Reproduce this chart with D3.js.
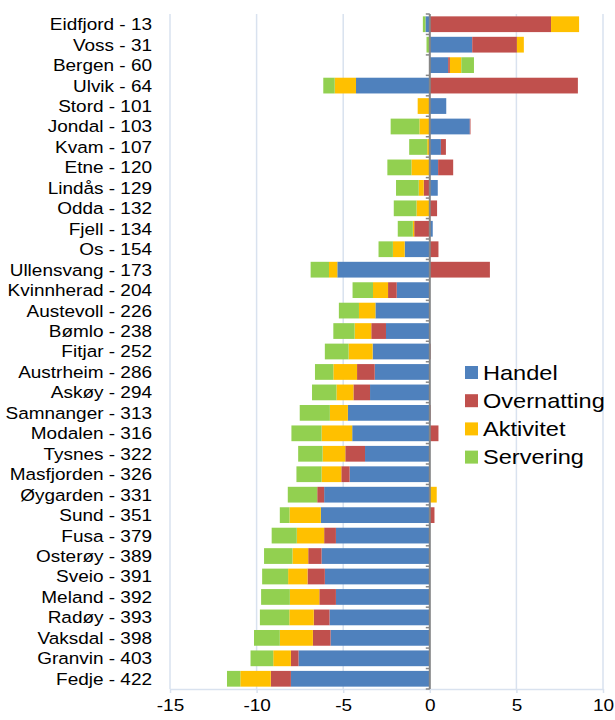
<!DOCTYPE html>
<html>
<head>
<meta charset="utf-8">
<script src="https://cdn.jsdelivr.net/npm/d3@7"></script>
<style>
  body { margin: 0; background: #fff; }
  svg { font-family: "Liberation Sans", Arial, sans-serif; }
</style>
</head>
<body>
<div id="chart"></div>
<script>
var kommuner = ["Eidfjord - 13", "Voss - 31", "Bergen - 60", "Ulvik - 64", "Stord - 101",
  "Jondal - 103", "Kvam - 107", "Etne - 120", "Lindås - 129", "Odda - 132", "Fjell - 134",
  "Os - 154", "Ullensvang - 173", "Kvinnherad - 204", "Austevoll - 226", "Bømlo - 238",
  "Fitjar - 252", "Austrheim - 286", "Askøy - 294", "Samnanger - 313", "Modalen - 316",
  "Tysnes - 322", "Masfjorden - 326", "Øygarden - 331", "Sund - 351", "Fusa - 379",
  "Osterøy - 389", "Sveio - 391", "Meland - 392", "Radøy - 393", "Vaksdal - 398",
  "Granvin - 403", "Fedje - 422"];

var seriesNames = ["Handel", "Overnatting", "Aktivitet", "Servering"];

var handel = [-0.25, 2.45, 1.06, -4.26, 0.95, 2.31, 0.64, 0.48, 0.46, 0, 0.17,
  -1.45, -5.34, -1.91, -3.14, -2.53, -3.3, -3.18, -3.45, -4.73, -4.48,
  -3.74, -4.63, -6.1, -6.29, -5.42, -6.25, -6.06, -5.42, -5.79, -5.73, -7.58, -8.02];
var overnatting = [7.0, 2.58, 0.1, 8.55, 0, 0.04, 0.29, 0.87, -0.35, 0.42, -0.9,
  0.5, 3.47, -0.5, 0, -0.85, 0.05, -1.02, -0.96, 0.05, 0.5,
  -1.14, -0.48, -0.4, 0.27, -0.68, -0.77, -1.0, -0.96, -0.91, -1.02, -0.44, -1.16];
var aktivitet = [1.62, 0.4, 0.66, -1.23, -0.7, -0.6, -0.15, -1.06, -0.29, -0.77, -0.08,
  -0.68, -0.48, -0.87, -0.95, -0.96, -1.39, -1.37, -0.98, -1.04, -1.77,
  -1.31, -1.14, 0.4, -1.81, -1.58, -0.91, -1.12, -1.7, -1.41, -1.91, -1.02, -1.76];
var servering = [-0.15, -0.19, 0.73, -0.66, 0, -1.66, -1.04, -1.39, -1.31, -1.31, -0.87,
  -0.83, -1.06, -1.18, -1.16, -1.23, -1.37, -1.06, -1.41, -1.74, -1.74,
  -1.41, -1.45, -1.7, -0.56, -1.45, -1.64, -1.5, -1.66, -1.7, -1.49, -1.31, -0.77];

var xTicks = [-15, -10, -5, 0, 5, 10];
var colors = ["#4F81BD", "#C0504D", "#FFC000", "#92D050"];

var margin = {top: 14, right: 12, bottom: 31, left: 170},
    width = 615 - margin.left - margin.right,
    height = 720 - margin.top - margin.bottom;

// the reference text is a bit wider than it is tall
var stretch = "scale(1.15,1)";

// table for d3.stack
var rows = kommuner.map(function(k, i) {
  return {name: k, Handel: handel[i], Overnatting: overnatting[i],
          Aktivitet: aktivitet[i], Servering: servering[i]};
});

var stacked = d3.stack()
    .keys(seriesNames)
    .offset(d3.stackOffsetDiverging)(rows);

var x = d3.scaleLinear().domain([-15, 10]).range([0, width]);
var y = d3.scaleBand().domain(kommuner).range([0, height]).paddingInner(0.23).paddingOuter(0.115);
var color = d3.scaleOrdinal().domain(seriesNames).range(colors);

var svg = d3.select("#chart").append("svg")
    .attr("width", 615)
    .attr("height", 720)
  .append("g")
    .attr("transform", "translate(" + margin.left + "," + margin.top + ")");

// vertical gridlines
svg.selectAll(".grid")
    .data(xTicks)
    .enter().append("line")
    .attr("x1", function(d) { return x(d); })
    .attr("x2", function(d) { return x(d); })
    .attr("y1", 0)
    .attr("y2", height)
    .attr("stroke", "#D9E2EF")
    .attr("stroke-width", 1.5);

// x axis
var xAxis = svg.append("g")
    .attr("transform", "translate(0," + height + ")")
    .call(d3.axisBottom(x).tickValues(xTicks).tickSize(4).tickSizeOuter(0)
      .tickFormat(function(d) { return String(d); }));
xAxis.select(".domain").attr("stroke", "#D9E2EF").attr("stroke-width", 1.5);
xAxis.selectAll(".tick line").attr("stroke", "#D9E2EF").attr("stroke-width", 1.5);
xAxis.selectAll("text")
    .attr("font-size", "16.5px")
    .attr("fill", "#000")
    .attr("y", 0)
    .attr("dy", 0)
    .attr("transform", "translate(0,22) " + stretch)
    .attr("font-family", "Liberation Sans, Arial, sans-serif");

// bars
svg.selectAll(".serie")
    .data(stacked)
    .enter().append("g")
    .attr("fill", function(d) { return color(d.key); })
  .selectAll("rect")
    .data(function(d) { return d; })
    .enter().append("rect")
    .attr("x", function(d) { return x(Math.min(d[0], d[1])); })
    .attr("width", function(d) { return Math.abs(x(d[1]) - x(d[0])); })
    .attr("y", function(d) { return y(d.data.name); })
    .attr("height", y.bandwidth());

// zero axis
svg.append("line")
    .attr("x1", x(0))
    .attr("x2", x(0))
    .attr("y1", 0)
    .attr("y2", height)
    .attr("stroke", "#868686")
    .attr("stroke-width", 2);

// small ticks between categories
var step = y.step();
svg.selectAll(".ytick")
    .data(d3.range(kommuner.length + 1))
    .enter().append("line")
    .attr("x1", x(0) - 4)
    .attr("x2", x(0))
    .attr("y1", function(i) { return i * step; })
    .attr("y2", function(i) { return i * step; })
    .attr("stroke", "#868686")
    .attr("stroke-width", 1.5);

// category labels
svg.selectAll(".ylabel")
    .data(kommuner)
    .enter().append("text")
    .attr("transform", function(d) {
      return "translate(-18," + (y(d) + y.bandwidth() / 2) + ") " + stretch;
    })
    .attr("text-anchor", "end")
    .attr("dy", "0.36em")
    .attr("font-size", "16.5px")
    .text(function(d) { return d; });

// legend
var legend = svg.selectAll(".legend")
    .data(seriesNames)
    .enter().append("g")
    .attr("transform", function(d, i) { return "translate(295," + (352 + i * 28.2) + ")"; });

legend.append("rect")
    .attr("width", 13)
    .attr("height", 13)
    .attr("y", 0)
    .attr("fill", function(d) { return color(d); });

legend.append("text")
    .attr("transform", "translate(18,6.5) " + stretch)
    .attr("dy", "0.36em")
    .attr("font-size", "20.5px")
    .text(function(d) { return d; });
</script>
</body>
</html>
